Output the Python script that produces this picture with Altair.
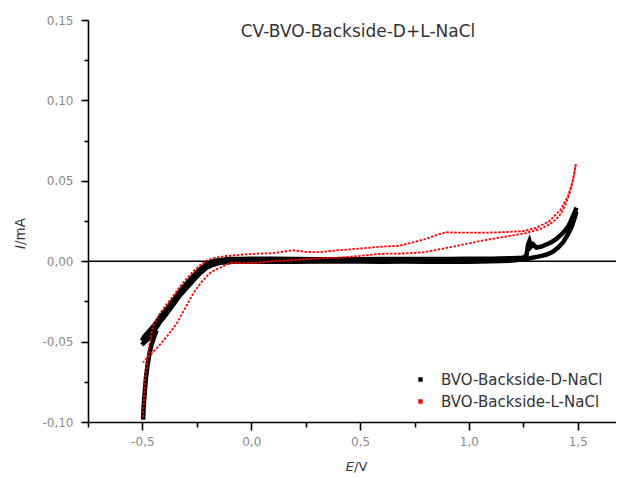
import altair as alt
import pandas as pd

SERIES = ["BVO-Backside-D-NaCl", "BVO-Backside-L-NaCl"]
COLORS = ["#000000", "#ff0000"]
TITLE = "CV-BVO-Backside-D+L-NaCl"

X_TICKS = [-0.75, -0.5, -0.25, 0.0, 0.25, 0.5, 0.75, 1.0, 1.25, 1.5]
Y_TICKS = [-0.1, -0.075, -0.05, -0.025, 0.0, 0.025, 0.05, 0.075, 0.1, 0.125, 0.15]

# --- D (dark) ---
d_start_E = [-0.497, -0.494, -0.489, -0.484, -0.477, -0.468, -0.458, -0.446, -0.435]
d_start_I = [-0.0985, -0.090, -0.081, -0.073, -0.065, -0.058, -0.052, -0.047, -0.043]

d_fwd_E = [-0.503, -0.49, -0.47, -0.448, -0.42, -0.387, -0.355, -0.326, -0.295, -0.265,
           -0.235, -0.203, -0.175, -0.142, -0.1, -0.05, 0.0, 0.1, 0.2, 0.3,
           0.4, 0.5, 0.6, 0.7, 0.8, 0.9, 1.0, 1.1, 1.2, 1.25,
           1.265, 1.272, 1.278, 1.285, 1.295, 1.31, 1.33, 1.356, 1.38, 1.402,
           1.42, 1.44, 1.458, 1.471, 1.484, 1.494]
d_fwd_I = [-0.0495, -0.0465, -0.0435, -0.0402, -0.035, -0.0296, -0.0238, -0.0184, -0.0135, -0.009,
           -0.005, -0.0015, 0.0, 0.0008, 0.0013, 0.0014, 0.0015, 0.0015, 0.0013, 0.0012,
           0.0012, 0.0012, 0.0013, 0.0013, 0.0013, 0.0014, 0.0015, 0.0016, 0.0018, 0.0022,
           0.004, 0.0105, 0.0125, 0.009, 0.0105, 0.0085, 0.009, 0.0104, 0.012, 0.0138,
           0.016, 0.0187, 0.022, 0.026, 0.0298, 0.0333]

d_rev_E = [1.494, 1.484, 1.471, 1.452, 1.433, 1.41, 1.385, 1.355, 1.323, 1.28,
           1.2, 1.1, 1.0, 0.9, 0.8, 0.7, 0.6, 0.5, 0.4, 0.3,
           0.2, 0.1, 0.0, -0.08, -0.142, -0.175, -0.203, -0.235, -0.265, -0.295,
           -0.326, -0.355, -0.387, -0.42, -0.448, -0.475, -0.503]
d_rev_I = [0.031, 0.0262, 0.021, 0.016, 0.0118, 0.0085, 0.0058, 0.004, 0.003, 0.0018,
           0.0004, 0.0, -0.0003, -0.0003, -0.0003, -0.0002, -0.0003, -0.0002, 0.0, -0.0002,
           -0.0003, -0.0004, -0.0004, -0.0003, -0.0009, -0.0022, -0.0038, -0.0075, -0.0118, -0.0163,
           -0.021, -0.0265, -0.0323, -0.038, -0.0439, -0.0485, -0.052]

# --- L (light) ---
l_fwd_E = [-0.497, -0.492, -0.486, -0.478, -0.466, -0.452, -0.42, -0.387, -0.355, -0.326,
           -0.295, -0.265, -0.235, -0.203, -0.17, -0.128, -0.05, 0.018, 0.1, 0.193,
           0.25, 0.31, 0.4, 0.494, 0.592, 0.676, 0.745, 0.8, 0.859, 0.894,
           0.95, 1.05, 1.15, 1.248, 1.31, 1.37, 1.422, 1.455, 1.475, 1.486,
           1.491]
l_fwd_I = [-0.097, -0.083, -0.071, -0.061, -0.05, -0.0405, -0.0325, -0.0265, -0.021, -0.0155,
           -0.0105, -0.0062, -0.0025, 0.0005, 0.002, 0.003, 0.004, 0.0046, 0.005, 0.0068,
           0.0058, 0.0056, 0.0068, 0.0078, 0.009, 0.0095, 0.0118, 0.0138, 0.0166, 0.018,
           0.0178, 0.0177, 0.018, 0.0187, 0.0208, 0.0249, 0.0322, 0.0405, 0.049, 0.0565,
           0.0602]

l_rev_E = [1.491, 1.478, 1.462, 1.445, 1.425, 1.402, 1.37, 1.323, 1.26, 1.2,
           1.12, 1.05, 0.98, 0.898, 0.79, 0.7, 0.592, 0.494, 0.4, 0.3,
           0.2, 0.1, 0.02, -0.05, -0.096, -0.127, -0.158, -0.188, -0.226, -0.265,
           -0.303, -0.341, -0.387, -0.42, -0.448, -0.475, -0.497]
l_rev_I = [0.0602, 0.05, 0.042, 0.0355, 0.030, 0.0262, 0.0228, 0.0198, 0.0175, 0.016,
           0.0142, 0.0125, 0.0105, 0.0083, 0.0055, 0.0048, 0.0046, 0.0032, 0.0022, 0.0017,
           0.0008, 0.0, -0.001, -0.0012, -0.001, -0.0031, -0.0048, -0.0072, -0.0125, -0.0197,
           -0.029, -0.0384, -0.0467, -0.052, -0.056, -0.0595, -0.063]


def frame(series, seg, E, I):
    return pd.DataFrame({"series": series, "seg": seg, "order": list(range(len(E))), "E": E, "I": I})


black_df = pd.concat([
    frame(SERIES[0], "start", d_start_E, d_start_I),
    frame(SERIES[0], "fwd", d_fwd_E, d_fwd_I),
    frame(SERIES[0], "rev", d_rev_E, d_rev_I),
], ignore_index=True)
red_df = pd.concat([
    frame(SERIES[1], "fwd", l_fwd_E, l_fwd_I),
    frame(SERIES[1], "rev", l_rev_E, l_rev_I),
], ignore_index=True)

LABEL_FONT = "DejaVu Sans"
x_scale = alt.Scale(domain=[-0.75, 1.6757], nice=False, zero=False)
y_scale = alt.Scale(domain=[-0.10, 0.15], nice=False, zero=False)

x_major = "abs(round(datum.value*4)) % 2 == 0"
y_major = "abs(round(datum.value*40)) % 2 == 0"

x_axis = alt.Axis(
    values=X_TICKS, title=None, grid=False,
    labelExpr=f"{x_major} ? (datum.value < 0 ? '-' : '') + replace(format(abs(datum.value), '.1f'), '.', ',') : ''",
    tickSize={"condition": {"test": x_major, "value": 8}, "value": 5},
    labelPadding=6, labelOverlap=False, labelFlush=False,
    domainColor="black", domainWidth=1.6, tickColor="black", tickWidth=1.6,
    labelColor="#8a8a8a", labelFont=LABEL_FONT, labelFontSize=12,
)
y_axis = alt.Axis(
    values=Y_TICKS, title=None, grid=False,
    labelExpr=f"{y_major} ? (datum.value < 0 ? '-' : '') + replace(format(abs(datum.value), '.2f'), '.', ',') : ''",
    tickSize={"condition": {"test": y_major, "value": 7}, "value": 4},
    labelPadding=8, labelOverlap=False, labelFlush=False,
    domainColor="black", domainWidth=1.6, tickColor="black", tickWidth=1.6,
    labelColor="#8a8a8a", labelFont=LABEL_FONT, labelFontSize=12,
)
legend = alt.Legend(
    orient="none", legendX=325, legendY=352, title=None, padding=0,
    symbolType="square", symbolSize=3, symbolStrokeWidth=2.6, symbolDash=[1, 0],
    labelFont=LABEL_FONT, labelFontSize=15, labelColor="#333333", labelLimit=400,
    labelOffset=13, rowPadding=6,
)
color = alt.Color("series:N", scale=alt.Scale(domain=SERIES, range=COLORS), legend=legend)

zero_rule = alt.Chart(pd.DataFrame({"y": [0.0]})).mark_rule(color="black", strokeWidth=1.6).encode(
    y=alt.Y("y:Q", scale=y_scale, axis=y_axis)
)

black = alt.Chart(black_df).mark_line(strokeWidth=4.5).encode(
    x=alt.X("E:Q", scale=x_scale, axis=x_axis),
    y=alt.Y("I:Q", scale=y_scale, axis=y_axis),
    color=color, detail="seg:N", order="order:Q",
)
red = alt.Chart(red_df).mark_line(strokeWidth=1.8, strokeDash=[2.5, 1.5]).encode(
    x=alt.X("E:Q", scale=x_scale, axis=x_axis),
    y=alt.Y("I:Q", scale=y_scale, axis=y_axis),
    color=color, detail="seg:N", order="order:Q",
)

title = alt.Chart(pd.DataFrame({"t": [TITLE]})).mark_text(
    font=LABEL_FONT, fontSize=17, color="#333333", align="center", baseline="middle"
).encode(x=alt.value(270), y=alt.value(12), text="t:N")

xt_italic = alt.Chart(pd.DataFrame({"t": ["E"]})).mark_text(
    font=LABEL_FONT, fontSize=13, fontStyle="italic", color="#333333", align="right", baseline="middle"
).encode(x=alt.value(266), y=alt.value(447), text="t:N")
xt_rest = alt.Chart(pd.DataFrame({"t": ["/V"]})).mark_text(
    font=LABEL_FONT, fontSize=13, color="#333333", align="left", baseline="middle"
).encode(x=alt.value(266), y=alt.value(447), text="t:N")

yt_italic = alt.Chart(pd.DataFrame({"t": ["I"]})).mark_text(
    font=LABEL_FONT, fontSize=13.5, fontStyle="italic", color="#333333", align="right",
    baseline="middle", angle=270
).encode(x=alt.value(-67), y=alt.value(225), text="t:N")
yt_rest = alt.Chart(pd.DataFrame({"t": ["/mA"]})).mark_text(
    font=LABEL_FONT, fontSize=13.5, color="#333333", align="left",
    baseline="middle", angle=270
).encode(x=alt.value(-67), y=alt.value(225), text="t:N")

chart = alt.layer(zero_rule, black, red, title, xt_italic, xt_rest, yt_italic, yt_rest).properties(
    width=528, height=402,
    autosize=alt.AutoSizeParams(type="none"),
    padding={"left": 80, "top": 12, "right": 0, "bottom": 57},
    background="white",
).configure_view(stroke=None)

chart.save("out.html", embed_options={"renderer": "svg", "actions": False})
